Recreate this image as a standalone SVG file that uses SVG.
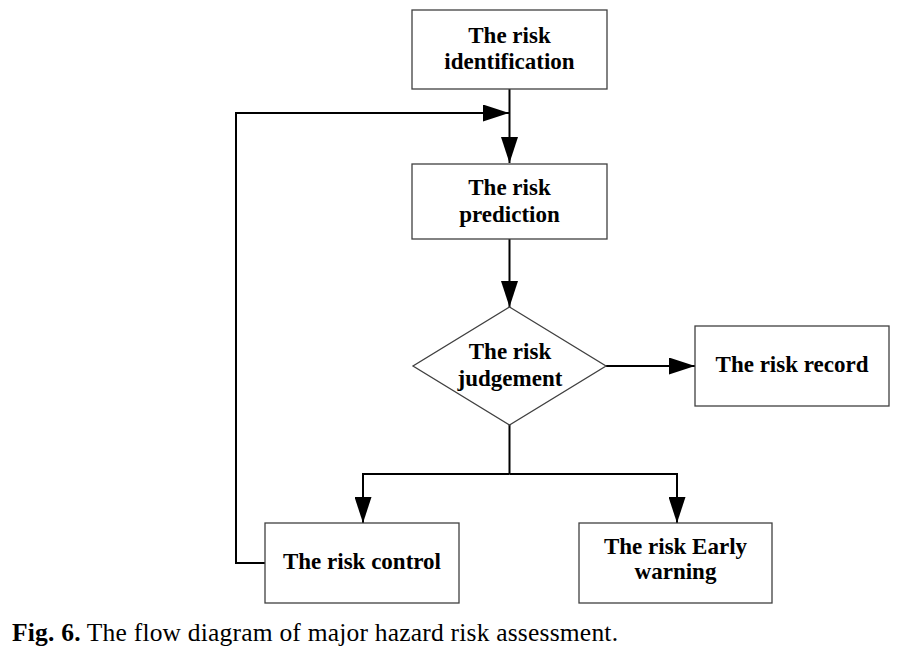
<svg xmlns="http://www.w3.org/2000/svg" width="909" height="652" viewBox="0 0 909 652">
<style>
.box{fill:#fff;stroke:#404040;stroke-width:1.3}
.lbl{font-family:"Liberation Serif","Times New Roman",serif;font-weight:bold;font-size:23px;fill:#000;text-anchor:middle}
.conn{fill:none;stroke:#000;stroke-width:2}
.cap{font-family:"Liberation Serif","Times New Roman",serif;font-size:25.5px;fill:#000}
</style>
<defs>
<marker id="ah" viewBox="0 0 26 17" refX="26" refY="8.5" markerWidth="26" markerHeight="17" orient="auto" markerUnits="userSpaceOnUse">
<path d="M0,0 L26,8.5 L0,17 Z" fill="#000"/>
</marker>
</defs>
<rect width="909" height="652" fill="#fff"/>
<g id="connectors">
<path class="conn" d="M509.5,89 V163" marker-end="url(#ah)"/>
<path class="conn" d="M265,563 H236 V113 H509" marker-end="url(#ah)"/>
<path class="conn" d="M509.5,239 V307" marker-end="url(#ah)"/>
<path class="conn" d="M606,366 H695" marker-end="url(#ah)"/>
<path class="conn" d="M509.5,425 V474"/>
<path class="conn" d="M509.5,474 H363 V523" marker-end="url(#ah)"/>
<path class="conn" d="M509.5,474 H677 V523" marker-end="url(#ah)"/>
</g>
<g id="identification">
<rect class="box" x="412" y="10" width="195" height="79"/>
<text class="lbl" x="509.5" y="43">The risk</text>
<text class="lbl" x="509.5" y="69">identification</text>
</g>
<g id="prediction">
<rect class="box" x="412" y="164" width="195" height="75"/>
<text class="lbl" x="509.5" y="195">The risk</text>
<text class="lbl" x="509.5" y="222">prediction</text>
</g>
<g id="judgement">
<polygon class="box" points="509.5,307 606,366 509.5,425 413,366"/>
<text class="lbl" x="510" y="359">The risk</text>
<text class="lbl" x="510" y="386">judgement</text>
</g>
<g id="record">
<rect class="box" x="695" y="326" width="194" height="80"/>
<text class="lbl" x="792" y="372">The risk record</text>
</g>
<g id="control">
<rect class="box" x="265" y="523" width="194" height="80"/>
<text class="lbl" x="362" y="569">The risk control</text>
</g>
<g id="warning">
<rect class="box" x="579" y="523" width="193" height="80"/>
<text class="lbl" x="675.5" y="554">The risk Early</text>
<text class="lbl" x="675.5" y="579">warning</text>
</g>
<text class="cap" x="12" y="641" textLength="606" lengthAdjust="spacing"><tspan font-weight="bold">Fig. 6.</tspan> The flow diagram of major hazard risk assessment.</text>
</svg>
